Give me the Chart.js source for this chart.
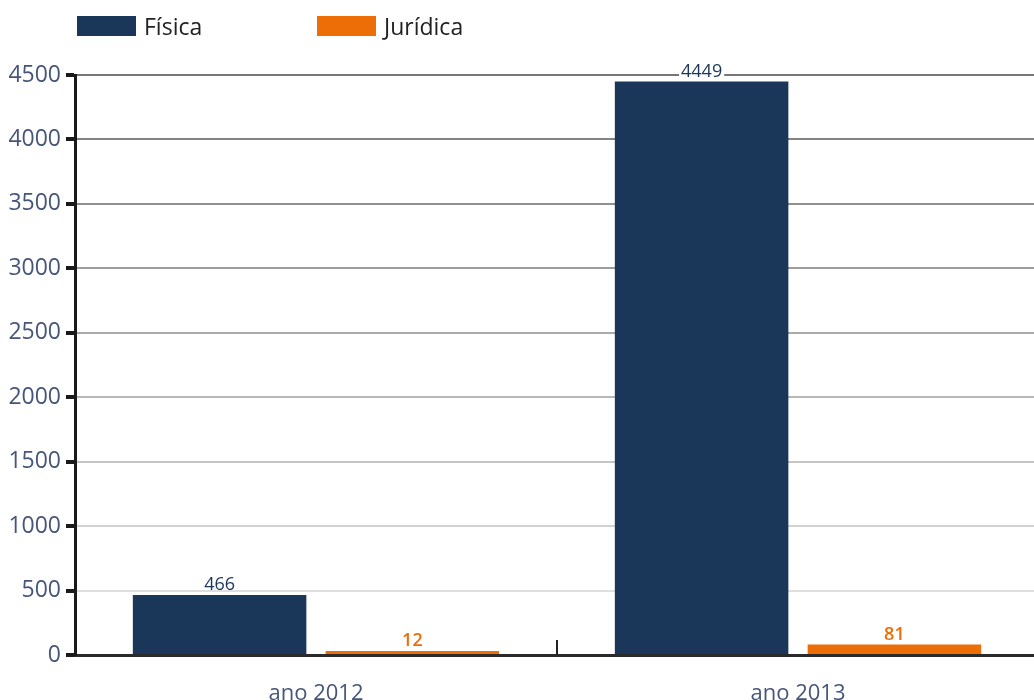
<!DOCTYPE html>
<html lang="pt">
<head>
<meta charset="utf-8">
<title>Física x Jurídica</title>
<script src="https://cdn.jsdelivr.net/npm/chart.js@4.4.1/dist/chart.umd.min.js"></script>
<style>
    html, body { margin: 0; padding: 0; background: #fff; overflow: hidden; }
    #wrap { position: relative; width: 1040px; height: 700px; }
    .legend { position: absolute; top: 10px; left: 77px; display: flex; font: 23px "Open Sans", sans-serif; color: #222; }
    .legend-item { display: flex; align-items: center; }
    .legend-box { width: 59px; height: 20px; margin-right: 8px; }
</style>
</head>
<body>
<div id="wrap">
    <div class="legend" id="legend"></div>
    <canvas id="chart"></canvas>
</div>
<script>
// Data
const categories = ['ano 2012', 'ano 2013'];
const seriesNames = ['Física', 'Jurídica'];
const fisicaValues = [466, 4449];
const juridicaValues = [12, 81];
const yTicks = [0, 500, 1000, 1500, 2000, 2500, 3000, 3500, 4000, 4500];

const NAVY = '#1a3658';
const ORANGE = '#ed6e06';
const TICK_TEXT = '#46557a';

// Value labels above each bar, with a white backing so grid lines don't cross the text
const barLabels = {
    id: 'barLabels',
    afterDatasetsDraw(chart) {
        const ctx = chart.ctx;
        ctx.save();
        chart.data.datasets.forEach((ds, i) => {
            const meta = chart.getDatasetMeta(i);
            ctx.font = (i === 1 ? '600 ' : '') + '18px "Open Sans", sans-serif';
            ctx.textAlign = 'center';
            ctx.textBaseline = 'bottom';
            meta.data.forEach((bar, j) => {
                const text = String(ds.data[j]);
                const w = ctx.measureText(text).width;
                const y = bar.y - 4;
                ctx.fillStyle = '#fff';
                ctx.fillRect(bar.x - w / 2 - 2, y - 16, w + 4, 15);
                ctx.fillStyle = ds.backgroundColor;
                ctx.fillText(text, bar.x, y + 3);
            });
        });
        ctx.restore();
    }
};

// Short upward marks on the x axis between categories
const categoryDividers = {
    id: 'categoryDividers',
    afterDraw(chart) {
        const x = chart.scales.x;
        const ctx = chart.ctx;
        ctx.save();
        ctx.strokeStyle = '#222';
        ctx.lineWidth = 2;
        for (let i = 1; i < categories.length; i++) {
            const px = Math.round((x.getPixelForTick(i - 1) + x.getPixelForTick(i)) / 2);
            ctx.beginPath();
            ctx.moveTo(px, x.top);
            ctx.lineTo(px, x.top - 15);
            ctx.stroke();
        }
        ctx.restore();
    }
};

// Grid lines fade from dark at the top to light near the baseline
function gridColor(context) {
    const v = context.tick ? context.tick.value : 0;
    const t = v / yTicks[yTicks.length - 1];
    const l = Math.round(236 - t * 118);
    return `rgb(${l}, ${l}, ${l})`;
}

function buildLegend() {
    const legend = document.getElementById('legend');
    [NAVY, ORANGE].forEach((color, i) => {
        const item = document.createElement('div');
        item.className = 'legend-item';
        item.style.width = i === 0 ? '240px' : 'auto';
        item.innerHTML = `<span class="legend-box" style="background:${color}"></span><span>${seriesNames[i]}</span>`;
        legend.appendChild(item);
    });
}

document.addEventListener('DOMContentLoaded', function () {
    buildLegend();
    const ctx = document.getElementById('chart').getContext('2d');
    new Chart(ctx, {
        type: 'bar',
        data: {
            labels: categories,
            datasets: [
                { label: seriesNames[0], data: fisicaValues, backgroundColor: NAVY },
                { label: seriesNames[1], data: juridicaValues, backgroundColor: ORANGE, minBarLength: 4 }
            ]
        },
        options: {
            responsive: true,
            maintainAspectRatio: false,
            animation: false,
            layout: { padding: { top: 75, right: 1, left: 0, bottom: 0 } },
            plugins: {
                legend: { display: false },
                tooltip: { enabled: false }
            },
            scales: {
                x: {
                    grid: { display: false },
                    border: { display: true, color: '#2b2b2b', width: 3 },
                    ticks: { color: TICK_TEXT, font: { family: 'Open Sans', size: 22 }, padding: 18 },
                    afterFit: scale => { scale.height = 45; }
                },
                y: {
                    min: 0,
                    max: 4500,
                    afterBuildTicks: scale => { scale.ticks = yTicks.map(v => ({ value: v })); },
                    grid: { color: gridColor, lineWidth: 2, tickColor: '#1a1a1a', tickLength: 9, tickWidth: 4 },
                    border: { display: true, color: '#1a1a1a', width: 3 },
                    ticks: {
                        color: TICK_TEXT,
                        font: { family: 'Open Sans', size: 23 },
                        padding: 5,
                        callback: value => String(value)
                    },
                    afterFit: scale => { scale.width = 75; }
                }
            }
        },
        plugins: [barLabels, categoryDividers]
    });
});
</script>
</body>
</html>
